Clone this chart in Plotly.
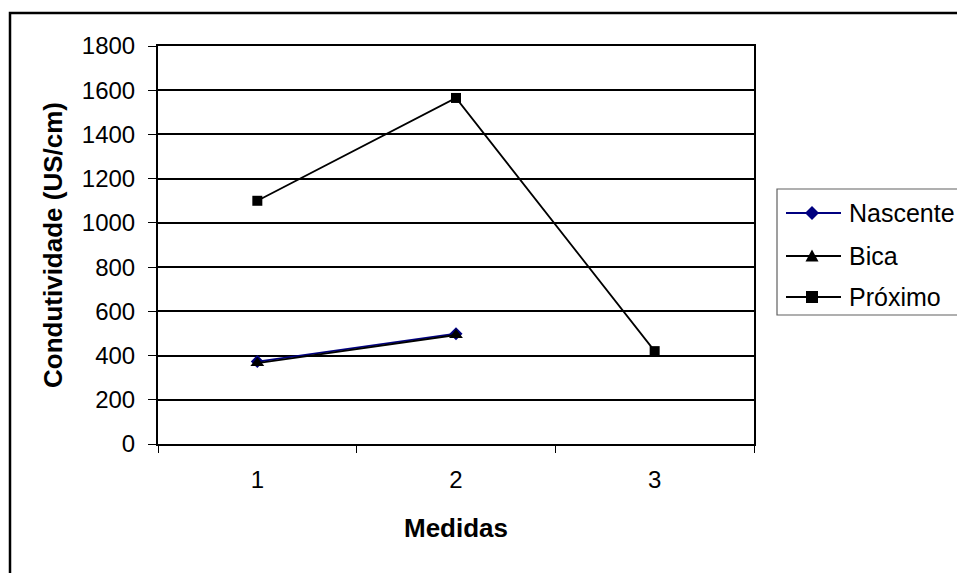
import plotly.graph_objects as go

# Medições de condutividade por ponto de coleta
medidas = ["1", "2", "3"]
nascente = [373, 499, None]
bica = [366, 493, None]
proximo = [1100, 1565, 420]

y_ticks = [0, 200, 400, 600, 800, 1000, 1200, 1400, 1600, 1800]

series_names = ["Nascente", "Bica", "Próximo"]
series_colors = ["#000080", "black", "black"]
series_symbols = ["diamond", "triangle-up", "square"]

W, H = 957, 573
L, R, T, B = 158, 754, 46, 444  # plot area in pixels
pw, ph = R - L, B - T


def px(x):
    return (x - L) / pw


def py(y):
    return (B - y) / ph


fig = go.Figure()
marker_sizes = [10, 12, 10]
for name, vals, col, sym, ms in zip(series_names, [nascente, bica, proximo],
                                    series_colors, series_symbols, marker_sizes):
    fig.add_trace(go.Scatter(
        x=medidas, y=vals, name=name, mode="lines+markers",
        line=dict(color=col, width=1.8),
        marker=dict(symbol=sym, size=ms, color=col),
        showlegend=False,
    ))

shapes = []
annotations = []

# outer chart frame (left and top edges visible, the rest runs off the page)
shapes.append(dict(type="rect", xref="paper", yref="paper",
                   x0=px(10), x1=px(W + 20), y0=py(H + 20), y1=py(13),
                   line=dict(color="black", width=2.5), layer="below"))

# legend box and keys
shapes.append(dict(type="rect", xref="paper", yref="paper",
                   x0=px(777), x1=px(W + 20), y0=py(315), y1=py(189),
                   line=dict(color="#606060", width=1.2), fillcolor="white",
                   layer="below"))
key_y = [213, 256, 297]
lx0, lx1, mx, tx = 786, 841, 812, 847
for name, col, sym, ky in zip(series_names, series_colors, series_symbols, key_y):
    shapes.append(dict(type="line", xref="paper", yref="paper",
                       x0=px(lx0), x1=px(lx1), y0=py(ky), y1=py(ky),
                       line=dict(color=col, width=1.8)))
    if sym == "diamond":
        d = 7
        path = (f"M {px(mx - d)},{py(ky)} L {px(mx)},{py(ky - d)} "
                f"L {px(mx + d)},{py(ky)} L {px(mx)},{py(ky + d)} Z")
    elif sym == "triangle-up":
        d = 6.5
        path = (f"M {px(mx - d)},{py(ky + d - 1)} L {px(mx + d)},{py(ky + d - 1)} "
                f"L {px(mx)},{py(ky - d)} Z")
    else:
        d = 6
        path = (f"M {px(mx - d)},{py(ky - d)} L {px(mx + d)},{py(ky - d)} "
                f"L {px(mx + d)},{py(ky + d)} L {px(mx - d)},{py(ky + d)} Z")
    shapes.append(dict(type="path", xref="paper", yref="paper", path=path,
                       fillcolor=col, line=dict(color=col, width=0)))
    annotations.append(dict(xref="paper", yref="paper", x=px(tx), y=py(ky),
                            xanchor="left", yanchor="middle", showarrow=False,
                            text=name, font=dict(size=25, color="black")))

fig.update_layout(
    width=W, height=H,
    margin=dict(l=L, r=W - R, t=T, b=H - B, autoexpand=False),
    paper_bgcolor="white", plot_bgcolor="white",
    font=dict(family="Liberation Sans, Arial, sans-serif", color="black", size=24),
    showlegend=False,
    shapes=shapes,
    annotations=annotations,
    xaxis=dict(
        type="category", categoryorder="array", categoryarray=medidas,
        range=[-0.5, 2.5],
        showline=True, linecolor="black", linewidth=2, mirror=True,
        ticks="outside", tickson="boundaries", ticklen=7, tickcolor="black",
        ticklabelstandoff=13,
        showgrid=False, zeroline=False,
        tickfont=dict(size=24),
        title=dict(text="<b>Medidas</b>", font=dict(size=26), standoff=27),
    ),
    yaxis=dict(
        range=[0, 1800], tickvals=y_ticks,
        showline=True, linecolor="black", linewidth=2, mirror=True,
        ticks="outside", ticklen=8, tickcolor="black",
        ticklabelstandoff=8,
        showgrid=True, gridcolor="black", gridwidth=1.5,
        zeroline=False, tickfont=dict(size=24),
        title=dict(text="<b>Condutividade (US/cm)</b>", font=dict(size=26), standoff=12),
    ),
)

fig.write_html("out.html")
